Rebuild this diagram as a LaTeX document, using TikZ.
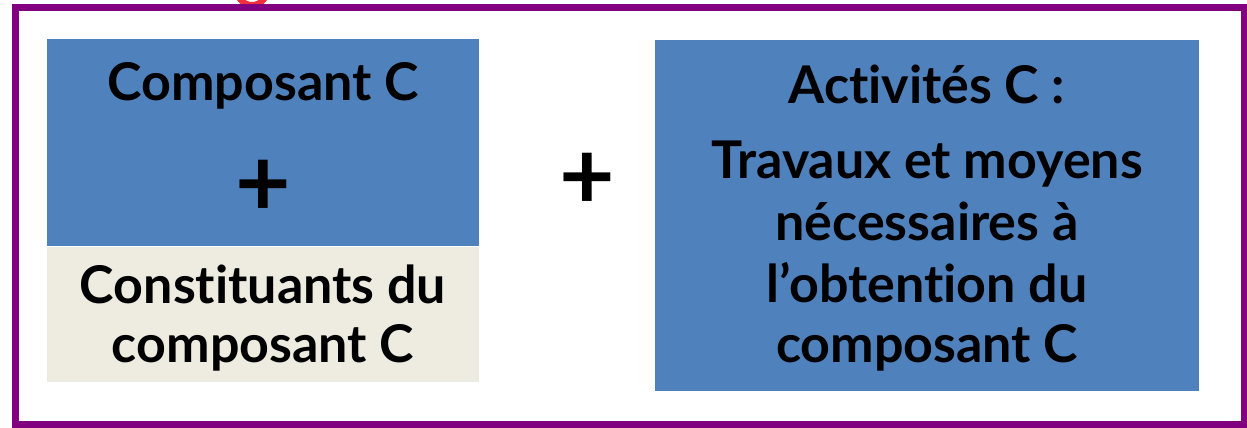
\documentclass[tikz,border=0pt]{standalone}
\usepackage{fontspec}
\setmainfont[Ligatures=NoCommon,RawFeature={-liga;-dlig}]{Lato}
\definecolor{boxblue}{HTML}{4F81BD}
\definecolor{boxbeige}{HTML}{EEECE1}
\definecolor{frame}{HTML}{800080}
\definecolor{redglyph}{HTML}{F0303A}
\tikzset{
  box/.style={inner sep=0pt, outer sep=0pt},
  txt/.style={anchor=base, inner sep=0pt, font=\fontsize{52}{60}\selectfont\bfseries},
  plus/.style={inner sep=0pt, font=\fontsize{96}{96}\selectfont\bfseries}
}
\begin{document}
\begin{tikzpicture}[x=1pt,y=-1pt]
\useasboundingbox (0,0) rectangle (1247,428);
\begin{scope}
\clip (0,0) rectangle (1247,428);
\draw[redglyph, line width=6pt] (252,-10) circle (15);
\end{scope}
\draw[frame, line width=7pt] (15.5,7.5) rectangle (1244,424);
% left stacked boxes
\fill[boxblue] (47,39) rectangle (479,246);
\fill[boxbeige] (47,247) rectangle (479,382);
\fill[boxblue] (655,40) rectangle (1199,391);
\node[txt] (comp) at (263,100) {Composant C};
\node[plus] (plusL) at (263,188) {+};
\node[txt] (const1) at (263,303) {Constituants du};
\node[txt] (const2) at (263,362) {composant C};
\node[plus] (plusM) at (587,181) {+};
\node[txt] (act1) at (927,103) {Activités C :};
\node[txt] (act2) at (927,178) {Travaux et moyens};
\node[txt] (act3) at (927,240) {nécessaires à};
\node[txt] (act4) at (927,302) {l’obtention du};
\node[txt] (act5) at (927,362) {composant C};
\end{tikzpicture}
\end{document}
